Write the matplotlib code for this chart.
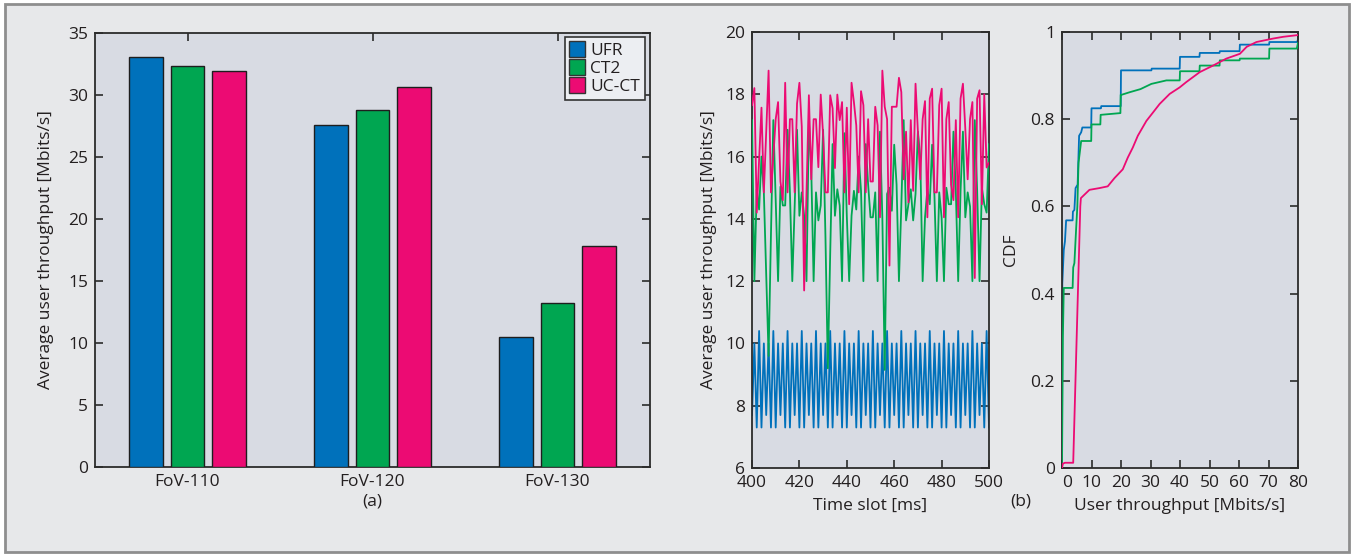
import matplotlib
matplotlib.use("Agg")
import matplotlib.pyplot as plt
from matplotlib.patches import Rectangle
from matplotlib.lines import Line2D

plt.rcParams['font.family'] = ['Open Sans', 'DejaVu Sans']

# ---------------- data ----------------
groups = ["FoV-110", "FoV-120", "FoV-130"]
schemes = ["UFR", "CT2", "UC-CT"]
bar_ufr = [33.05, 27.6, 10.45]
bar_ct2 = [32.35, 28.8, 13.2]
bar_ucct = [31.95, 30.65, 17.8]

time_slots = list(range(400, 501))
ts_ufr = [7.7, 10.0, 7.3, 10.4, 7.3, 10.0, 7.7, 10.0, 7.3, 10.4, 7.3, 10.0,
          7.7, 10.0, 7.3, 10.4, 7.3, 10.0, 7.7, 10.0, 7.3, 10.4, 7.3, 10.0,
          7.7, 10.0, 7.3, 10.4, 7.3, 10.0, 7.7, 10.0, 7.3, 10.4, 7.3, 10.0,
          7.7, 10.0, 7.3, 10.4, 7.3, 10.0, 7.7, 10.0, 7.3, 10.4, 7.3, 10.0,
          7.7, 10.0, 7.3, 10.4, 7.3, 10.0, 7.7, 10.0, 7.3, 10.4, 7.3, 10.0,
          7.7, 10.0, 7.3, 10.4, 7.3, 10.0, 7.7, 10.0, 7.3, 10.4, 7.3, 10.0,
          7.7, 10.0, 7.3, 10.4, 7.3, 10.0, 7.7, 10.0, 7.3, 10.4, 7.3, 10.0,
          7.7, 10.0, 7.3, 10.4, 7.3, 10.0, 7.7, 10.0, 7.3, 10.4, 7.3, 10.0,
          7.7, 10.0, 7.3, 10.4, 7.3]
ts_ct2 = [17.17, 12.0, 14.95, 14.3, 16.0, 14.85, 12.2, 9.6, 13.5, 17.17,
          14.6, 12.0, 15.03, 14.43, 14.43, 16.86, 14.85, 12.0, 14.4, 16.86,
          14.1, 14.85, 14.1, 12.0, 17.17, 15.6, 12.0, 14.85, 13.95, 14.43,
          16.86, 13.4, 9.2, 12.9, 16.4, 14.1, 14.95, 14.43, 12.0, 16.75,
          14.1, 12.0, 14.1, 14.9, 14.3, 16.0, 14.9, 12.0, 16.4, 15.1,
          14.05, 14.05, 14.85, 12.0, 16.8, 14.05, 9.15, 14.8, 15.0, 14.26,
          16.38, 15.1, 12.0, 14.4, 17.17, 13.95, 14.47, 14.95, 13.95, 14.8,
          16.8, 15.96, 12.0, 14.05, 14.95, 14.47, 16.38, 14.7, 12.0, 14.85,
          14.05, 12.0, 15.0, 14.47, 14.47, 16.8, 14.9, 12.0, 14.9, 16.8,
          14.05, 14.85, 14.4, 12.0, 17.17, 14.9, 12.0, 15.0, 14.47, 14.2,
          16.4]
ts_ucct = [17.65, 18.2, 14.2, 15.9, 17.57, 14.85, 16.8, 18.76, 14.85, 16.0,
           17.2, 17.75, 15.2, 14.6, 18.37, 14.85, 17.2, 17.2, 14.85, 17.7,
           18.37, 16.96, 11.7, 14.85, 17.97, 15.27, 17.2, 17.2, 15.66, 17.99,
           16.7, 14.85, 14.85, 17.97, 17.55, 15.63, 17.99, 17.17, 17.75, 14.85,
           17.57, 14.47, 18.37, 17.75, 17.0, 14.85, 18.1, 17.65, 14.85, 17.2,
           15.2, 15.2, 17.6, 17.0, 14.05, 18.76, 17.6, 17.2, 12.5, 17.6,
           17.6, 17.6, 18.53, 18.07, 15.27, 16.8, 14.53, 17.17, 14.9, 18.34,
           16.8, 15.27, 17.2, 17.78, 14.05, 17.86, 18.18, 14.85, 14.85, 17.65,
           18.18, 14.05, 17.2, 17.75, 15.1, 14.6, 17.17, 14.05, 17.86, 18.34,
           16.9, 15.27, 17.2, 17.75, 12.1, 17.86, 18.13, 14.47, 18.0, 15.65,
           15.8]

cdf_ufr_x = [0, 0.1, 0.6, 1.0, 1.4, 3.6, 3.7, 4.2, 4.6, 5.3, 5.8, 6.5, 6.9, 7.6,
             9.9, 10.0, 13.2, 13.3, 19.9, 20.0, 30.3, 30.4, 39.9, 40.0, 46.6,
             46.7, 53.4, 53.5, 60.2, 60.3, 70.2, 70.3, 79.7, 80.0]
cdf_ufr_y = [0, 0.423, 0.50, 0.52, 0.568, 0.568, 0.588, 0.592, 0.642, 0.65, 0.762,
             0.77, 0.781, 0.781, 0.781, 0.825, 0.825, 0.83, 0.83, 0.912, 0.912,
             0.916, 0.916, 0.943, 0.943, 0.952, 0.952, 0.956, 0.956, 0.971, 0.971,
             0.977, 0.977, 0.983]
cdf_ct2_x = [0, 0.3, 0.6, 3.6, 3.8, 4.2, 4.8, 5.2, 5.6, 6.5, 9.9, 10.0, 13.0,
             13.1, 19.8, 19.9, 20.2, 23.0, 26.6, 30.3, 35.4, 39.9, 40.0, 46.6,
             46.7, 53.4, 53.5, 60.2, 60.3, 70.2, 70.3, 79.6, 80.0]
cdf_ct2_y = [0, 0.30, 0.413, 0.413, 0.46, 0.47, 0.55, 0.60, 0.70, 0.75, 0.75,
             0.788, 0.788, 0.81, 0.814, 0.856, 0.856, 0.862, 0.869, 0.881, 0.889,
             0.889, 0.91, 0.91, 0.923, 0.923, 0.935, 0.935, 0.939, 0.939, 0.962,
             0.962, 0.975]
cdf_ucct_x = [0, 0.3, 1.0, 3.8, 6.2, 6.4, 9.3, 12.7, 15.5, 17.8, 20.6, 22.3,
              24.0, 25.7, 28.6, 30.8, 33.1, 36.5, 39.9, 42.1, 46.7, 51.2, 55.7,
              60.3, 62.6, 65.9, 71.6, 75.0, 80.0]
cdf_ucct_y = [0, 0.010, 0.012, 0.012, 0.60, 0.619, 0.638, 0.642, 0.646, 0.665,
              0.685, 0.712, 0.735, 0.762, 0.796, 0.815, 0.835, 0.858, 0.873,
              0.885, 0.908, 0.923, 0.939, 0.95, 0.966, 0.977, 0.985, 0.989, 0.993]

# ---------------- style ----------------
c_blue = '#0071bb'
c_green = '#00a651'
c_pink = '#ec0b73'
panel_bg = '#d8dbe3'
frame_bg = '#e7e8ea'
spine_c = '#2b2b2b'
text_c = '#231f20'
fs = 12.5

W, H = 1355, 556
fig = plt.figure(figsize=(W / 100, H / 100), dpi=100, facecolor='white')
fig.patches.append(Rectangle((5 / W, 1 - 552 / H), (1349 - 5) / W, (552 - 4) / H,
                             transform=fig.transFigure, facecolor=frame_bg,
                             edgecolor='#8e8e8e', lw=2, zorder=-5))


def px_axes(l, t, r, b):
    return fig.add_axes([l / W, 1 - b / H, (r - l) / W, (b - t) / H])


def style(ax):
    ax.set_facecolor(panel_bg)
    for s in ax.spines.values():
        s.set_color(spine_c)
        s.set_linewidth(1.3)
    ax.tick_params(direction='in', length=6, width=1.2, color=spine_c,
                   top=True, right=True, labelsize=fs, labelcolor=text_c, pad=5)


# ---------------- (a) bar chart ----------------
ax1 = px_axes(95, 33, 650, 467)
style(ax1)
xs = [1, 2, 3]
bw = 0.18
off = 0.225
for vals, col, name, dx in [(bar_ufr, c_blue, schemes[0], -off),
                            (bar_ct2, c_green, schemes[1], 0),
                            (bar_ucct, c_pink, schemes[2], off)]:
    ax1.bar([x + dx for x in xs], vals, width=bw, color=col, edgecolor='#1e1e1e',
            linewidth=1.0, label=name, zorder=3)
ax1.set_xlim(0.5, 3.5)
ax1.set_ylim(0, 35)
ax1.set_xticks(xs)
ax1.set_xticklabels(groups)
ax1.set_yticks(range(0, 36, 5))
ax1.set_ylabel("Average user throughput [Mbits/s]", fontsize=fs, color=text_c,
               labelpad=10)
handles = [Line2D([], [], marker='s', linestyle='none', markersize=11,
                  markerfacecolor=c, markeredgecolor='#333333', markeredgewidth=1.0)
           for c in (c_blue, c_green, c_pink)]
leg = ax1.legend(handles, schemes, loc='upper right', bbox_to_anchor=(0.991, 0.99),
                 borderaxespad=0, fontsize=fs, frameon=True, fancybox=False,
                 handlelength=0.8, handletextpad=0.35, borderpad=0.3,
                 labelspacing=0.12)
leg.get_frame().set_edgecolor('#333333')
leg.get_frame().set_facecolor('#eceef2')
leg.get_frame().set_linewidth(1.2)
leg.get_frame().set_alpha(1)
for t in leg.get_texts():
    t.set_color(text_c)
fig.text(372 / W, 1 - 502 / H, "(a)", ha='center', va='center', fontsize=fs,
         color=text_c)

# ---------------- (b) time series ----------------
ax2 = px_axes(752, 32, 989, 468)
style(ax2)
ax2.plot(time_slots, ts_ufr, color=c_blue, lw=1.3, zorder=2)
ax2.plot(time_slots, ts_ct2, color=c_green, lw=1.3, zorder=3)
ax2.plot(time_slots, ts_ucct, color=c_pink, lw=1.3, zorder=4)
ax2.set_xlim(400, 500)
ax2.set_ylim(6, 20)
ax2.set_xticks(range(400, 501, 20))
ax2.set_yticks(range(6, 21, 2))
ax2.set_xlabel("Time slot [ms]", fontsize=fs, color=text_c, labelpad=5)
ax2.set_ylabel("Average user throughput [Mbits/s]", fontsize=fs, color=text_c,
               labelpad=6)

# ---------------- (b) CDF ----------------
ax3 = px_axes(1062, 32, 1298, 468)
style(ax3)
ax3.plot(cdf_ufr_x, cdf_ufr_y, color=c_blue, lw=1.3, zorder=2)
ax3.plot(cdf_ct2_x, cdf_ct2_y, color=c_green, lw=1.3, zorder=3)
ax3.plot(cdf_ucct_x, cdf_ucct_y, color=c_pink, lw=1.3, zorder=4)
ax3.set_xlim(0, 80)
ax3.set_ylim(0, 1)
ax3.set_xticks(range(0, 81, 10))
ax3.set_xticklabels([str(v) for v in range(0, 81, 10)])
ax3.get_xticklabels()[0].set_horizontalalignment('left')
ax3.set_yticks([0, 0.2, 0.4, 0.6, 0.8, 1.0])
ax3.set_yticklabels(['0', '0.2', '0.4', '0.6', '0.8', '1'])
ax3.set_xlabel("User throughput [Mbits/s]", fontsize=fs, color=text_c, labelpad=5)
ax3.set_ylabel("CDF", fontsize=fs, color=text_c, labelpad=8)
fig.text(1021 / W, 1 - 502 / H, "(b)", ha='center', va='center', fontsize=fs,
         color=text_c)

fig.savefig("out.png", dpi=100, facecolor=fig.get_facecolor())
